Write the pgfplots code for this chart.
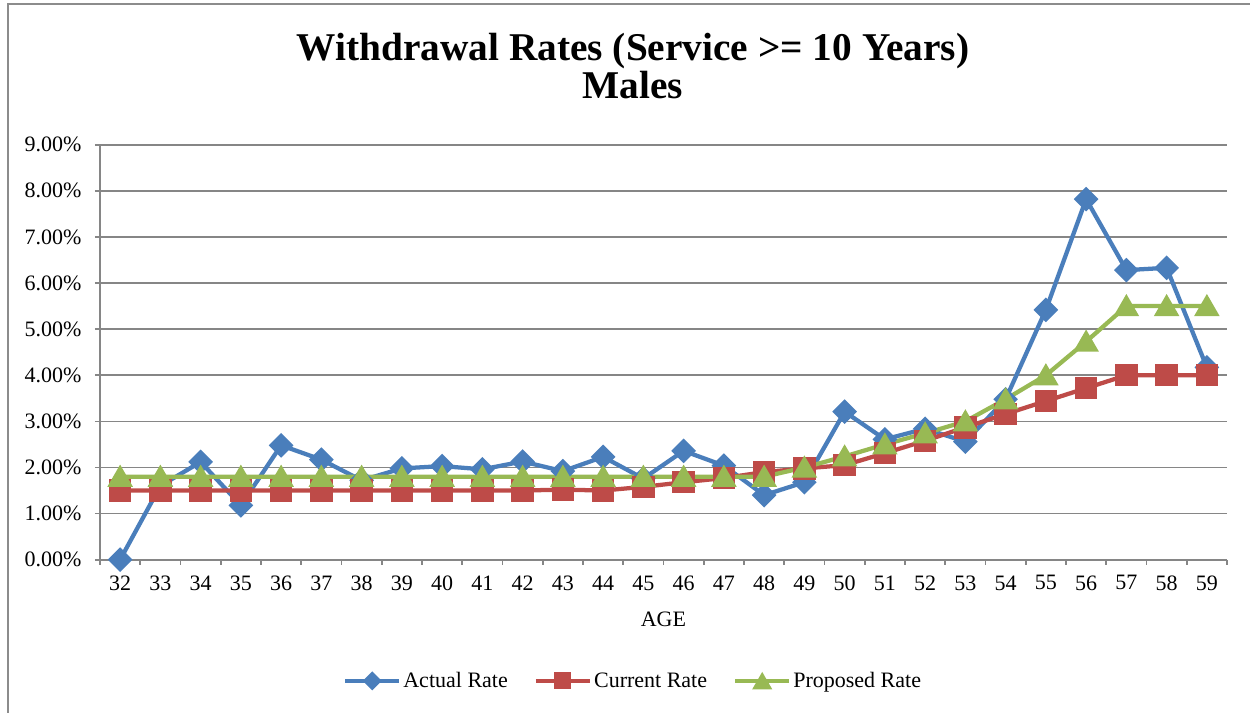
\documentclass[border=0pt]{standalone}
\usepackage{pgfplots}
\usepackage{pgfplotstable}
\pgfplotsset{compat=1.18}
\usepackage{fontspec}
\setmainfont{Liberation Serif}

\definecolor{actual}{HTML}{4A7EBB}
\definecolor{current}{HTML}{BE4B48}
\definecolor{proposed}{HTML}{98B954}
\definecolor{gridgray}{HTML}{868686}
\definecolor{framegray}{HTML}{8C8C8C}

% withdrawal rates in percent, by age
\pgfplotstableread{
age actual current proposed
32 0.00 1.50 1.80
33 1.60 1.50 1.80
34 2.12 1.50 1.80
35 1.18 1.50 1.80
36 2.48 1.50 1.80
37 2.17 1.50 1.80
38 1.72 1.50 1.80
39 1.98 1.50 1.80
40 2.03 1.50 1.80
41 1.96 1.50 1.80
42 2.13 1.50 1.80
43 1.92 1.52 1.80
44 2.23 1.50 1.80
45 1.76 1.58 1.80
46 2.36 1.68 1.80
47 2.04 1.77 1.80
48 1.40 1.90 1.80
49 1.68 1.98 2.00
50 3.21 2.05 2.24
51 2.61 2.31 2.50
52 2.84 2.58 2.74
53 2.56 2.87 3.00
54 3.48 3.16 3.48
55 5.42 3.44 4.00
56 7.82 3.72 4.73
57 6.28 4.00 5.50
58 6.33 4.00 5.50
59 4.17 4.00 5.50
}\ratestable

\begin{document}
\begin{tikzpicture}
\useasboundingbox (0,0) rectangle (937.5pt,-534.75pt);
\draw[framegray, line width=1.5pt] (6pt,-534.75pt) -- (6pt,-3pt) -- (937.5pt,-3pt);

\begin{axis}[
  at={(75pt,-419.775pt)}, anchor=south west,
  scale only axis, width=845.25pt, height=311.25pt,
  xmin=31.5, xmax=59.5, ymin=0, ymax=9,
  axis x line=bottom, axis y line=left,
  axis line style={gridgray, line width=1.2pt, -},
  xtick={32,...,59},
  minor xtick={31.5,32.5,...,59.5},
  major x tick style={draw=none},
  ytick={0,...,9},
  yticklabels={0.00\%,1.00\%,2.00\%,3.00\%,4.00\%,5.00\%,6.00\%,7.00\%,8.00\%,9.00\%},
  tick align=outside,
  major tick length=3.75pt, minor tick length=3.75pt,
  tick style={gridgray, line width=1.2pt},
  ymajorgrids, grid style={gridgray, line width=1.2pt},
  /pgf/number format/assume math mode=true,
  ticklabel style={font=\fontsize{16.5}{19}\selectfont},
  xticklabel style={yshift=-4.6pt},
  yticklabel style={xshift=-6.7pt},
  legend style={at={(axis description cs:0.473,-0.292)}, anchor=center,
    draw=none, fill=none, font=\fontsize{16.5}{19}\selectfont,
    /tikz/every even column/.append style={column sep=18pt},
    nodes={inner xsep=1.5pt}},
  legend columns=3,
  legend cell align=left,
  legend image code/.code={%
    \draw[mark repeat=2, mark phase=2, every mark/.append style={scale=0.7}]
      plot coordinates {(0pt,0pt) (20.25pt,0pt) (40.5pt,0pt)};},
  every axis plot/.append style={line width=3.2pt},
]
\addplot[actual, mark=square*, mark options={rotate=45, draw=none, fill=actual}, mark size=4.95pt]
  table[x=age, y=actual] {\ratestable};
\addlegendentry{Actual Rate}
\addplot[current, mark=square*, mark options={draw=none, fill=current}, mark size=6.8pt]
  table[x=age, y=current] {\ratestable};
\addlegendentry{Current Rate}
\addplot[proposed, mark=triangle*, mark options={draw=none, fill=proposed, yshift=-2pt}, mark size=7.9pt]
  table[x=age, y=proposed] {\ratestable};
\addlegendentry{Proposed Rate}
\end{axis}

\node[font=\fontsize{29.5}{34}\selectfont\bfseries, anchor=base] at (474.75pt,-45.5pt)
  {Withdrawal Rates (Service >= 10 Years)};
\node[font=\fontsize{29.5}{34}\selectfont\bfseries, anchor=base] at (474.75pt,-73.7pt)
  {Males};
\node[font=\fontsize{16.5}{19}\selectfont] at (497.6pt,-464.25pt) {AGE};
\end{tikzpicture}
\end{document}
